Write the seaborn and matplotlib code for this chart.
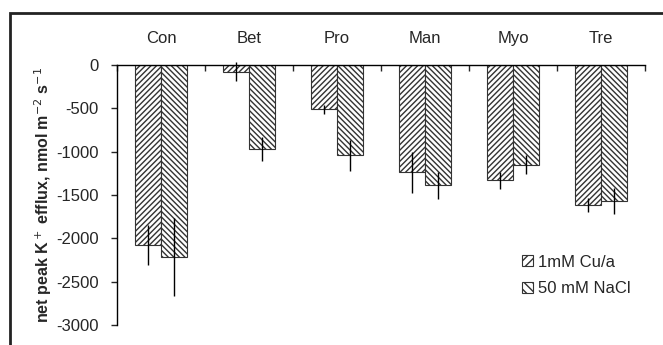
import pandas as pd
import numpy as np
import matplotlib.pyplot as plt
import seaborn as sns
from matplotlib.patches import Rectangle

sugars = ['Con', 'Bet', 'Pro', 'Man', 'Myo', 'Tre']
treatments = ['1mM Cu/a', '50 mM NaCl']
cu_vals = [-2080, -80, -510, -1240, -1330, -1620]
cu_err = [230, 110, 50, 240, 100, 80]
nacl_vals = [-2215, -970, -1040, -1390, -1150, -1570]
nacl_err = [450, 140, 180, 160, 110, 150]

df = pd.DataFrame({
    'sugar': sugars * 2,
    'treatment': [treatments[0]] * 6 + [treatments[1]] * 6,
    'flux': cu_vals + nacl_vals,
})
errs = cu_err + nacl_err

sns.set_style('white')
plt.rcParams['font.family'] = ['Liberation Sans', 'DejaVu Sans']
plt.rcParams['axes.unicode_minus'] = False

fig = plt.figure(figsize=(6.63, 3.45), dpi=100)
ax = fig.add_axes([0.1765, 0.058, 0.7965, 0.7536])

sns.barplot(data=df, x='sugar', y='flux', hue='treatment', order=sugars,
            hue_order=treatments, palette=['white', 'white'], width=0.6,
            edgecolor='#333333', linewidth=0.8, errorbar=None, ax=ax)

hatches = ['//////', '\\\\\\\\\\\\']
bars = [p for p in ax.patches if p.get_height() != 0][:12]
for i, p in enumerate(bars):
    p.set_hatch(hatches[i // 6])
    x = p.get_x() + p.get_width() / 2
    ax.errorbar(x, p.get_height(), yerr=errs[i], color='black', lw=1,
                capsize=0, clip_on=False)

ax.set_ylim(-3000, 0)
ax.set_xlim(-0.5, 5.5)
ax.set_yticks(np.arange(-3000, 1, 500))
ax.xaxis.tick_top()
ax.xaxis.set_label_position('top')
ax.set_xlabel('')
ax.set_xticks(np.arange(6))
ax.set_xticks(np.arange(-0.5, 6, 1), minor=True)
ax.tick_params(axis='x', which='major', length=0, labelsize=12, pad=14)
ax.tick_params(axis='x', which='minor', length=4, direction='in', width=1)
ax.tick_params(axis='y', length=4, direction='out', width=1, labelsize=12,
               left=True, pad=9)
for s in ['bottom', 'right']:
    ax.spines[s].set_visible(False)
for s in ['top', 'left']:
    ax.spines[s].set_color('black')
    ax.spines[s].set_linewidth(1)

ax.set_ylabel('net peak K$^+$ efflux, nmol m$^{-2}$ s$^{-1}$',
              fontsize=11.5, fontweight='bold')
ax.yaxis.set_label_coords(-0.119, 0.5)

leg_handles = [Rectangle((0, 0), 1, 1, facecolor='white', edgecolor='#333333',
                         hatch=h, lw=0.8) for h in ['////', '\\\\\\\\']]
ax.legend(leg_handles, treatments, frameon=False, loc='center left',
          bbox_to_anchor=(0.739, 0.19), handlelength=0.65, handleheight=0.65,
          handletextpad=0.3, labelspacing=0.7, fontsize=12)

fig.patches.append(Rectangle((10 / 663, -0.1), 1.1, 1.1 - 13 / 345,
                             transform=fig.transFigure, fill=False,
                             edgecolor='#222222', lw=2))

fig.savefig('out.png', dpi=100)
